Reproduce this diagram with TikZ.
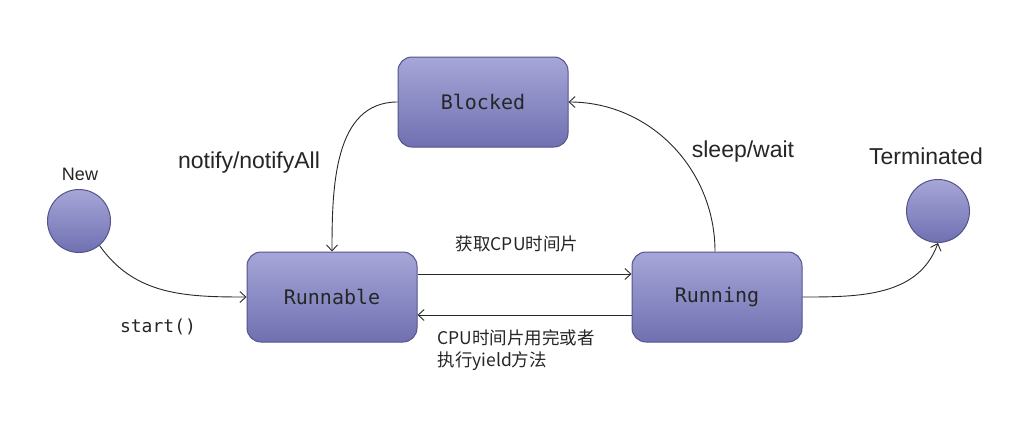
\documentclass[tikz,border=0pt]{standalone}
\usepackage{fontspec}
\setmainfont{Liberation Sans}
\newfontfamily\boxfont{DejaVu Sans Mono}
\newfontfamily\cjkfont{Noto Sans CJK SC}
\usetikzlibrary{arrows.meta}
\definecolor{stTop}{RGB}{166,166,216}
\definecolor{stBot}{RGB}{112,112,178}
\definecolor{stLine}{RGB}{84,84,140}
\definecolor{arcCol}{RGB}{40,40,40}
\tikzset{
  statebox/.style={rectangle,rounded corners=14pt,minimum width=170pt,minimum height=90pt,
    draw=stLine,line width=1pt,top color=stTop,bottom color=stBot,
    font=\boxfont\fontsize{20}{22}\selectfont,text=black!85},
  endstate/.style={circle,minimum size=63pt,inner sep=0pt,draw=stLine,line width=1pt,
    top color=stTop,bottom color=stBot},
  lbl/.style={font=\fontsize{23}{26}\selectfont,text=black!85},
  cjklbl/.style={font=\cjkfont\fontsize{17.5}{22}\selectfont,text=black!85},
  trans/.style={->,draw=arcCol,line width=0.9pt}
}
\begin{document}
\begin{tikzpicture}[x=1pt,y=-1pt,>={Straight Barb[length=6pt,width=11pt]}]
\useasboundingbox[fill=white] (0,0) rectangle (1032,439);
% states
\node[statebox] (blocked) at (483,102) {Blocked};
\node[statebox] (runnable) at (332,297) {Runnable};
\node[statebox] (running) at (717,297) {Running};
\node[endstate] (new) at (79,221) {};
\node[endstate] (term) at (938,211) {};
% labels
\node[lbl] (newlbl) at (80,174) {\fontsize{18}{20}\selectfont New};
\node[lbl] (termlbl) at (926,156) {Terminated};
\node[lbl] (notifylbl) at (249,163) {notify/notifyAll};
\node[lbl] (sleeplbl) at (743,152) {sleep/wait};
\node[font=\boxfont\fontsize{18}{20}\selectfont,text=black!85] (startlbl) at (158,327) {start()};
\node[cjklbl] (getlbl) at (517,244) {获取CPU时间片};
\node[cjklbl,align=left,anchor=north west] (yieldlbl) at (434,326) {CPU时间片用完或者\\执行yield方法};
% transitions
\draw[trans] (new.-50) to[out=-55,in=180] (runnable.west);
\draw[trans] ([yshift=23pt]runnable.east) -- ([yshift=23pt]running.west);
\draw[trans] ([yshift=-18pt]running.west) -- ([yshift=-18pt]runnable.east);
\draw[trans] ([xshift=-2pt]running.north) to[out=90,in=0] (blocked.east);
\draw[trans] (blocked.west) to[out=180,in=90] (runnable.north);
\draw[trans] (running.east) to[out=0,in=-110] (term.south);
\end{tikzpicture}
\end{document}
